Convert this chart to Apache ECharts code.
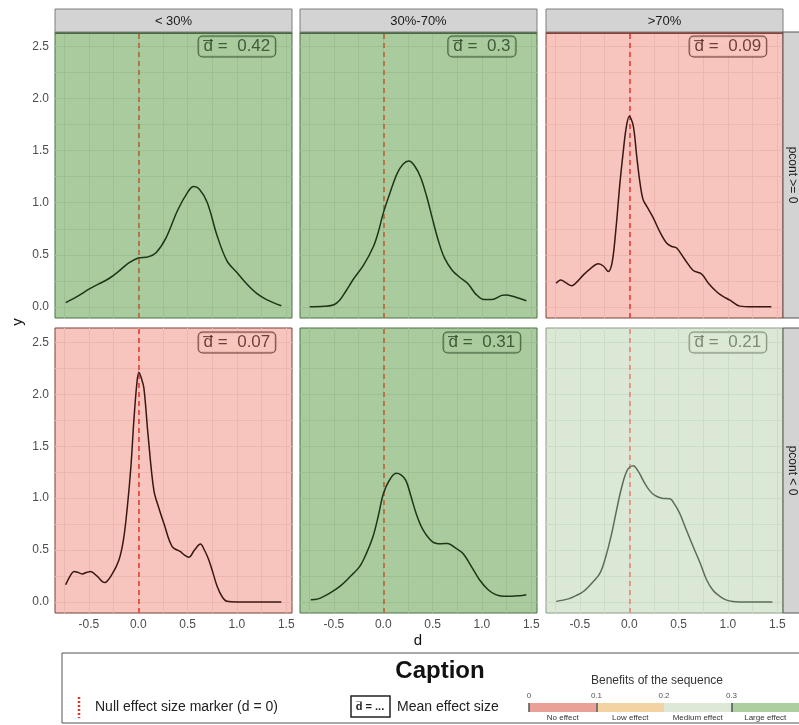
<!DOCTYPE html>
<html>
<head>
<meta charset="utf-8">
<script src="https://cdn.jsdelivr.net/npm/echarts@6/dist/echarts.min.js"></script>
<style>
  html, body { margin: 0; padding: 0; background: #fff; }
  #chart { width: 799px; height: 725px; }
</style>
</head>
<body>
<div id="chart"></div>
<script>
// facets
var colNames = ['< 30%', '30%-70%', '>70%'];
var rowNames = ['pcont >= 0', 'pcont < 0'];
var meanD = [[0.42, 0.3, 0.09], [0.07, 0.31, 0.21]];

// ticks / grid lines
var xTicks = [-0.5, 0, 0.5, 1, 1.5];
var xMinor = [-0.75, -0.25, 0.25, 0.75, 1.25];
var yTicks = [0, 0.5, 1, 1.5, 2, 2.5];
var yMinor = [0.25, 0.75, 1.25, 1.75, 2.25];

// benefit scale of the caption
var effectNames = ['No effect', 'Low effect', 'Medium effect', 'Large effect'];
var effectBreaks = [0, 0.1, 0.2, 0.3];
var effectTop = 0.4;

// density curves (d, y)
var curve1 = [[-0.735,0.04],[-0.6,0.11],[-0.5,0.17],[-0.4,0.22],[-0.3,0.27],[-0.2,0.34],[-0.1,0.42],[0,0.47],[0.1,0.48],[0.18,0.52],[0.28,0.66],[0.4,0.93],[0.5,1.1],[0.56,1.155],[0.62,1.13],[0.7,1.0],[0.8,0.68],[0.9,0.44],[1.0,0.33],[1.1,0.22],[1.2,0.13],[1.3,0.07],[1.45,0.01]];
var curve2 = [[-0.745,0.0],[-0.6,0.005],[-0.5,0.02],[-0.44,0.065],[-0.38,0.15],[-0.3,0.27],[-0.2,0.40],[-0.1,0.58],[-0.05,0.72],[0,0.9],[0.07,1.1],[0.14,1.28],[0.2,1.37],[0.26,1.40],[0.32,1.35],[0.38,1.24],[0.44,1.06],[0.5,0.84],[0.56,0.63],[0.62,0.47],[0.7,0.35],[0.78,0.28],[0.86,0.22],[0.94,0.12],[1.02,0.07],[1.1,0.07],[1.2,0.11],[1.25,0.115],[1.35,0.09],[1.45,0.058]];
var curve3 = [[-0.742,0.226],[-0.694,0.258],[-0.64,0.23],[-0.583,0.203],[-0.52,0.25],[-0.465,0.307],[-0.39,0.37],[-0.314,0.413],[-0.26,0.39],[-0.213,0.339],[-0.175,0.42],[-0.14,0.7],[-0.094,1.195],[-0.06,1.5],[-0.033,1.71],[0,1.83],[0.04,1.74],[0.075,1.45],[0.108,1.195],[0.14,1.03],[0.176,0.968],[0.243,0.855],[0.31,0.72],[0.378,0.613],[0.43,0.58],[0.48,0.565],[0.56,0.46],[0.648,0.349],[0.733,0.316],[0.8,0.23],[0.885,0.145],[0.95,0.1],[1.02,0.065],[1.12,0.007],[1.25,0],[1.44,0]];
var curve4 = [[-0.736,0.165],[-0.69,0.25],[-0.652,0.293],[-0.6,0.28],[-0.567,0.27],[-0.52,0.285],[-0.483,0.293],[-0.42,0.25],[-0.341,0.187],[-0.27,0.26],[-0.196,0.404],[-0.15,0.6],[-0.111,0.914],[-0.075,1.3],[-0.045,1.743],[-0.015,2.1],[0.006,2.214],[0.03,2.16],[0.057,2.06],[0.1,1.6],[0.158,1.074],[0.21,0.9],[0.26,0.755],[0.344,0.532],[0.428,0.484],[0.47,0.45],[0.512,0.43],[0.57,0.5],[0.63,0.557],[0.67,0.5],[0.715,0.404],[0.76,0.27],[0.8,0.149],[0.85,0.05],[0.9,0.006],[1.0,0],[1.45,0]];
var curve5 = [[-0.735,0.02],[-0.66,0.029],[-0.55,0.08],[-0.44,0.149],[-0.34,0.24],[-0.24,0.34],[-0.17,0.47],[-0.105,0.627],[-0.05,0.83],[0,1.04],[0.06,1.17],[0.13,1.239],[0.18,1.225],[0.23,1.169],[0.28,1.02],[0.334,0.85],[0.4,0.7],[0.5,0.579],[0.58,0.56],[0.654,0.564],[0.73,0.52],[0.806,0.468],[0.9,0.33],[0.975,0.213],[1.06,0.12],[1.14,0.07],[1.22,0.055],[1.31,0.054],[1.38,0.06],[1.45,0.07]];
var curve6 = [[-0.74,0.005],[-0.617,0.029],[-0.54,0.06],[-0.465,0.10],[-0.38,0.18],[-0.297,0.277],[-0.24,0.43],[-0.178,0.66],[-0.13,0.88],[-0.077,1.105],[-0.02,1.27],[0.04,1.313],[0.09,1.26],[0.142,1.169],[0.2,1.08],[0.26,1.026],[0.33,1.0],[0.412,0.994],[0.46,0.94],[0.513,0.85],[0.58,0.69],[0.648,0.532],[0.72,0.37],[0.783,0.213],[0.85,0.11],[0.918,0.054],[0.98,0.02],[1.05,0.005],[1.2,0],[1.45,0]];
var curves = [[curve1, curve2, curve3], [curve4, curve5, curve6]];

// 配色
var effectColors = ['#e9a096', '#f4d3a3', '#dde9d6', '#abcf9f'];
var panelStyle = {
	0: { fill: '#f7c5bd', grid: '#ebb7ae', line: '#3a1712', vline: '#e8332b', text: '#4a1d17', border: '#7a4037', top: '#8a3f35' },
	2: { fill: '#dbe8d5', grid: '#cddcc6', line: '#5d6c58', vline: '#e2826f', text: '#65735f', border: '#8a9a84', top: '#8a9a84' },
	3: { fill: '#a9cb9e', grid: '#9cc091', line: '#1d3618', vline: '#b95c2f', text: '#24401e', border: '#4a7042', top: '#46683f' }
};
function effectIndex(v) {
	var k = 0;
	for (var i = 0; i < effectBreaks.length; i++) if (v >= effectBreaks[i]) k = i;
	return k;
}

var colLeft = [55, 300, 546], panelW = 237;
var rowTop = [32, 328], panelH = [286, 285];

var myChart = echarts.init(document.getElementById('chart'));
var option = { animation: false, grid: [], xAxis: [], yAxis: [], series: [], graphic: [] };
var font = 'Liberation Sans';

for (var r = 0; r < 2; r++) {
	for (var c = 0; c < 3; c++) {
		var idx = r * 3 + c;
		var st = panelStyle[effectIndex(meanD[r][c])];
		option.grid.push({
			left: colLeft[c], top: rowTop[r], width: panelW, height: panelH[r],
			show: true, backgroundColor: st.fill, borderColor: st.border, borderWidth: 1
		});
		option.xAxis.push({
			gridIndex: idx, type: 'value', min: -0.844, max: 1.558,
			splitLine: { show: false }, axisLine: { show: false },
			axisTick: { show: r === 1, customValues: xTicks, length: 4, lineStyle: { color: '#333' } },
			axisLabel: { show: r === 1, customValues: xTicks, color: '#4d4d4d', fontSize: 12, fontFamily: font, margin: 6,
				formatter: function (v) { return v.toFixed(1); } }
		});
		option.yAxis.push({
			gridIndex: idx, type: 'value', min: -0.107, max: 2.64,
			splitLine: { show: false }, axisLine: { show: false },
			axisTick: { show: c === 0, customValues: yTicks, length: 4, lineStyle: { color: '#333' } },
			axisLabel: { show: c === 0, customValues: yTicks, color: '#4d4d4d', fontSize: 12, fontFamily: font, margin: 6,
				formatter: function (v) { return v.toFixed(1); } }
		});
		var gl = [];
		xTicks.concat(xMinor).forEach(function (v) { gl.push({ xAxis: v }); });
		yTicks.concat(yMinor).forEach(function (v) { gl.push({ yAxis: v }); });
		// grid lines
		option.series.push({
			type: 'line', xAxisIndex: idx, yAxisIndex: idx, data: [], z: 1,
			markLine: { z: 1, silent: true, symbol: ['none', 'none'], label: { show: false },
				lineStyle: { color: st.grid, width: 1, type: 'solid' }, data: gl }
		});
		// d = 0
		option.series.push({
			type: 'line', xAxisIndex: idx, yAxisIndex: idx, data: [], z: 2,
			markLine: { z: 2, silent: true, symbol: ['none', 'none'], label: { show: false },
				lineStyle: { color: st.vline, width: 1.5, type: [5, 4] }, data: [{ xAxis: 0 }] }
		});
		// density
		option.series.push({
			type: 'line', xAxisIndex: idx, yAxisIndex: idx, data: curves[r][c], z: 6,
			smooth: 0.35, showSymbol: false, silent: true,
			lineStyle: { color: st.line, width: 1.5 }
		});
		// mean label
		option.series.push({
			type: 'scatter', xAxisIndex: idx, yAxisIndex: idx, data: [[1.0, 2.5]], z: 7,
			symbolSize: 0, itemStyle: { color: 'rgba(0,0,0,0)' }, silent: true,
			label: { show: true, position: 'inside', formatter: 'd\u0305 =  ' + meanD[r][c],
				color: st.text, fontSize: 17, fontFamily: font, backgroundColor: st.fill,
				borderColor: st.text, borderWidth: 1, borderRadius: 4, padding: [2, 5, 1, 5] }
		});
		if (r === 0) {
			option.graphic.push({ type: 'line', shape: { x1: colLeft[c], y1: rowTop[r] + 1, x2: colLeft[c] + panelW, y2: rowTop[r] + 1 },
				style: { stroke: st.top, lineWidth: 2 }, z: 9 });
		}
	}
}

// strips
colNames.forEach(function (name, c) {
	option.graphic.push({ type: 'rect', shape: { x: colLeft[c], y: 9, width: panelW, height: 23 },
		style: { fill: '#d3d3d3', stroke: '#7f7f7f', lineWidth: 1 }, z: 10 });
	option.graphic.push({ type: 'text', x: colLeft[c] + panelW / 2, y: 21, z: 11,
		style: { text: name, align: 'center', verticalAlign: 'middle', fontSize: 13, fontFamily: font, fill: '#1a1a1a' } });
});
rowNames.forEach(function (name, r) {
	option.graphic.push({ type: 'rect', shape: { x: 783, y: rowTop[r], width: 22, height: panelH[r] },
		style: { fill: '#d3d3d3', stroke: '#555', lineWidth: 1 }, z: 10 });
	option.graphic.push({ type: 'text', x: 792, y: rowTop[r] + panelH[r] / 2, rotation: -Math.PI / 2, z: 11,
		style: { text: name, align: 'center', verticalAlign: 'middle', fontSize: 12, fontFamily: font, fill: '#1a1a1a' } });
});
// axis titles
option.graphic.push({ type: 'text', x: 18, y: 322, rotation: Math.PI / 2,
	style: { text: 'y', align: 'center', verticalAlign: 'middle', fontSize: 15, fontFamily: font, fill: '#111' } });
option.graphic.push({ type: 'text', x: 418, y: 641,
	style: { text: 'd', align: 'center', verticalAlign: 'middle', fontSize: 15, fontFamily: font, fill: '#111' } });

// caption box
option.graphic.push({ type: 'rect', shape: { x: 62, y: 653, width: 760, height: 70 },
	style: { fill: '#fff', stroke: '#555', lineWidth: 1 }, z: 0 });
option.graphic.push({ type: 'text', x: 440, y: 671, z: 5,
	style: { text: 'Caption', align: 'center', verticalAlign: 'middle', fontSize: 24, fontWeight: 'bold', fontFamily: font, fill: '#111' } });
option.graphic.push({ type: 'line', shape: { x1: 79, y1: 697, x2: 79, y2: 718 }, z: 5,
	style: { stroke: '#e8302a', lineWidth: 2.5, lineDash: [2, 2] } });
option.graphic.push({ type: 'text', x: 95, y: 707, z: 5,
	style: { text: 'Null effect size marker (d = 0)', align: 'left', verticalAlign: 'middle', fontSize: 14, fontFamily: font, fill: '#222' } });
option.graphic.push({ type: 'rect', shape: { x: 351, y: 696, width: 39, height: 21 }, z: 5,
	style: { fill: '#fff', stroke: '#222', lineWidth: 1.5 } });
option.graphic.push({ type: 'text', x: 370, y: 707, z: 6,
	style: { text: 'd\u0305 = ...', align: 'center', verticalAlign: 'middle', fontSize: 11, fontWeight: 'bold', fontFamily: font, fill: '#222' } });
option.graphic.push({ type: 'text', x: 397, y: 707, z: 5,
	style: { text: 'Mean effect size', align: 'left', verticalAlign: 'middle', fontSize: 14, fontFamily: font, fill: '#222' } });
option.graphic.push({ type: 'text', x: 657, y: 681, z: 5,
	style: { text: 'Benefits of the sequence', align: 'center', verticalAlign: 'middle', fontSize: 12, fontFamily: font, fill: '#333' } });

// benefit bar
option.grid.push({ left: 529, top: 703, width: 271, height: 9 });
option.xAxis.push({ gridIndex: 6, type: 'value', min: 0, max: effectTop, position: 'top', z: 5,
	splitLine: { show: false }, axisLine: { show: false },
	axisTick: { show: true, inside: true, length: 9, customValues: [0, 0.1, 0.3], lineStyle: { color: '#555', width: 1.5 } },
	axisLabel: { customValues: effectBreaks, fontSize: 8, color: '#555', fontFamily: font, margin: 3 } });
option.yAxis.push({ gridIndex: 6, type: 'category', data: ['benefit'], show: false });
effectNames.forEach(function (name, i) {
	var hi = i + 1 < effectBreaks.length ? effectBreaks[i + 1] : effectTop;
	option.series.push({
		name: name, type: 'bar', stack: 'benefit', xAxisIndex: 6, yAxisIndex: 6, barWidth: 9, z: 1,
		data: [+(hi - effectBreaks[i]).toFixed(3)], silent: true,
		itemStyle: { color: effectColors[i] },
		label: { show: true, position: 'bottom', distance: 2, formatter: name, fontSize: 8, color: '#333', fontFamily: font }
	});
});

myChart.setOption(option);
</script>
</body>
</html>
